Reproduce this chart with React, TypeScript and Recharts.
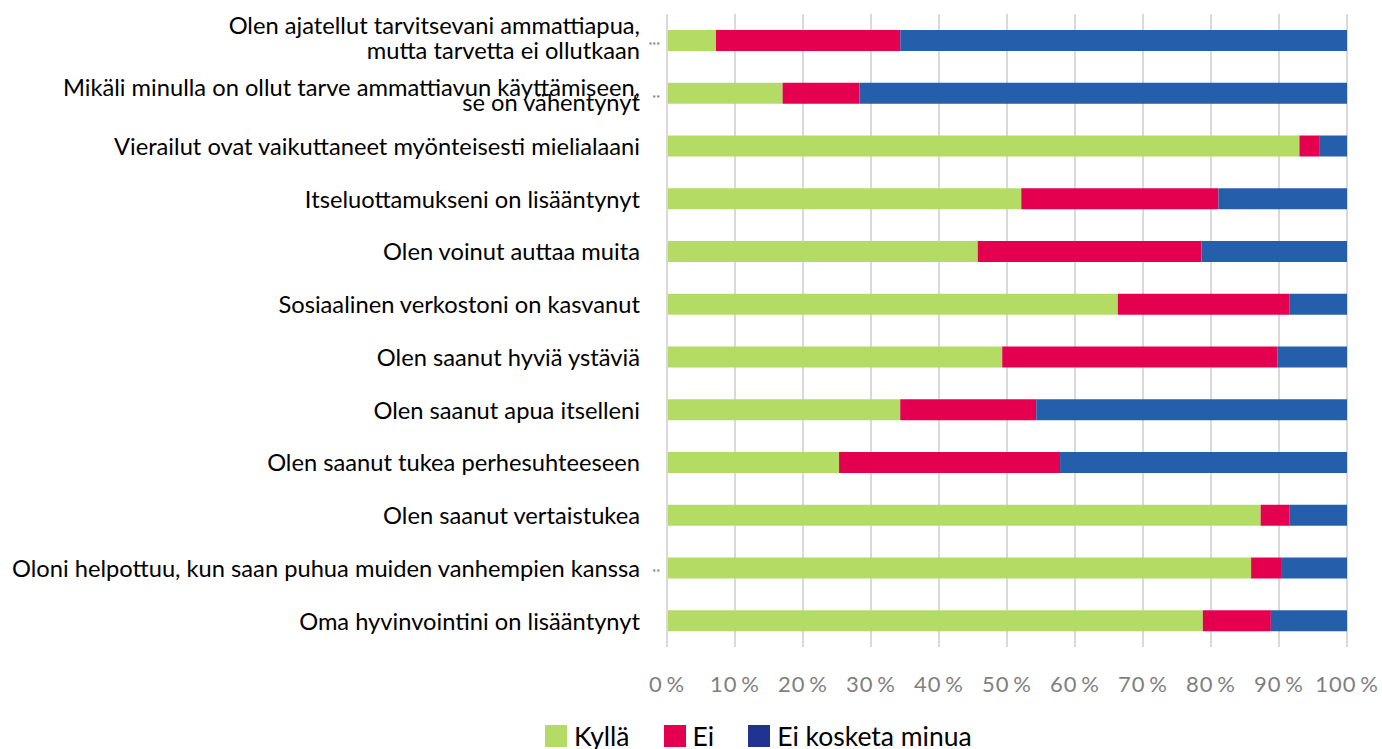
import React from "react";
import { BarChart, Bar, XAxis, YAxis, CartesianGrid, Legend } from "recharts";

const categories = [
  "Olen ajatellut tarvitsevani ammattiapua, mutta tarvetta ei ollutkaan",
  "Mikäli minulla on ollut tarve ammattiavun käyttämiseen, se on vähentynyt",
  "Vierailut ovat vaikuttaneet myönteisesti mielialaani",
  "Itseluottamukseni on lisääntynyt",
  "Olen voinut auttaa muita",
  "Sosiaalinen verkostoni on kasvanut",
  "Olen saanut hyviä ystäviä",
  "Olen saanut apua itselleni",
  "Olen saanut tukea perhesuhteeseen",
  "Olen saanut vertaistukea",
  "Oloni helpottuu, kun saan puhua muiden vanhempien kanssa",
  "Oma hyvinvointini on lisääntynyt",
];

const labelLines: string[][] = [
  ["Olen ajatellut tarvitsevani ammattiapua,", "mutta tarvetta ei ollutkaan"],
  ["Mikäli minulla on ollut tarve ammattiavun käyttämiseen,", "se on vähentynyt"],
  ["Vierailut ovat vaikuttaneet myönteisesti mielialaani"],
  ["Itseluottamukseni on lisääntynyt"],
  ["Olen voinut auttaa muita"],
  ["Sosiaalinen verkostoni on kasvanut"],
  ["Olen saanut hyviä ystäviä"],
  ["Olen saanut apua itselleni"],
  ["Olen saanut tukea perhesuhteeseen"],
  ["Olen saanut vertaistukea"],
  ["Oloni helpottuu, kun saan puhua muiden vanhempien kanssa"],
  ["Oma hyvinvointini on lisääntynyt"],
];

const significance = ["***", "**", "", "", "", "", "", "", "", "", "**", ""];

const kylla = [7.2, 17.0, 93.0, 52.1, 45.7, 66.3, 49.3, 34.3, 25.3, 87.3, 85.9, 78.8];
const ei = [27.1, 11.3, 3.0, 29.0, 32.9, 25.2, 40.5, 20.0, 32.5, 4.2, 4.4, 10.0];
const eiKosketa = [65.7, 71.7, 4.0, 18.9, 21.4, 8.5, 10.2, 45.7, 42.2, 8.5, 9.7, 11.2];

const xTicks = [0, 10, 20, 30, 40, 50, 60, 70, 80, 90, 100];

const seriesNames = ["Kyllä", "Ei", "Ei kosketa minua"];
const barColors = ["#b4dc64", "#e5004f", "#255eab"];
const legendColors = ["#b4dc64", "#e5004f", "#223290"];

const data = categories.map((c, i) => ({
  name: c,
  kylla: kylla[i],
  ei: ei[i],
  eiKosketa: eiKosketa[i],
}));

const FONT = "Lato, 'Noto Sans', sans-serif";

const YTick = (props: any) => {
  const { x, y, payload } = props;
  const idx = categories.indexOf(payload.value);
  const lines = labelLines[idx] || [payload.value];
  const offsets =
    lines.length === 1 ? [0] : idx === 0 ? [-15, 10] : [-6, 9];
  return (
    <g>
      {lines.map((l, k) => (
        <text
          key={k}
          x={x}
          y={y + offsets[k]}
          textAnchor="end"
          dominantBaseline="central"
          fontFamily={FONT}
          fontSize={23.7}
          fill="#000"
        >
          {l}
        </text>
      ))}
      {significance[idx] ? (
        <text
          x={x + 20}
          y={y + 5}
          textAnchor="end"
          dominantBaseline="central"
          fontFamily={FONT}
          fontSize={9}
          fill="#595959"
        >
          {significance[idx]}
        </text>
      ) : null}
    </g>
  );
};

const LegendContent = () => (
  <div
    style={{
      display: "flex",
      justifyContent: "flex-start",
      alignItems: "center",
      height: 30,
      paddingLeft: 545,
      paddingTop: 3,
      boxSizing: "border-box",
      fontFamily: FONT,
      fontSize: 26.5,
      color: "#000",
    }}
  >
    {seriesNames.map((n, i) => (
      <div
        key={n}
        style={{ display: "flex", alignItems: "center", marginLeft: i === 0 ? 0 : 34 }}
      >
        <div style={{ width: 22, height: 22, background: legendColors[i], marginRight: 7 }} />
        <span style={{ lineHeight: "28px" }}>{n}</span>
      </div>
    ))}
  </div>
);

export default function App() {
  return (
    <div style={{ position: "absolute", left: 0, top: 0, background: "#fff" }}>
      <BarChart
        width={1382}
        height={749}
        data={data}
        layout="vertical"
        margin={{ top: 14, right: 35, bottom: 0, left: 0 }}
        barSize={21}
      >
        <CartesianGrid horizontal={false} vertical stroke="#d9d9d9" strokeWidth={2} />
        <XAxis
          type="number"
          domain={[0, 100]}
          ticks={xTicks}
          tickFormatter={(v: number) => `${v}\u2009%`}
          axisLine={false}
          tickLine={false}
          height={72}
          tickMargin={23}
          interval={0}
          tick={{ fontFamily: FONT, fontSize: 22, fill: "#7f7f7f", letterSpacing: 1 }}
        />
        <YAxis
          type="category"
          dataKey="name"
          width={667}
          axisLine={{ stroke: "#d9d9d9", strokeWidth: 2 }}
          tickLine={false}
          tickMargin={21}
          interval={0}
          tick={<YTick />}
        />
        <Legend verticalAlign="bottom" content={<LegendContent />} wrapperStyle={{ left: 0, width: 1382 }} />
        <Bar dataKey="kylla" name={seriesNames[0]} stackId="a" fill={barColors[0]} isAnimationActive={false} />
        <Bar dataKey="ei" name={seriesNames[1]} stackId="a" fill={barColors[1]} isAnimationActive={false} />
        <Bar dataKey="eiKosketa" name={seriesNames[2]} stackId="a" fill={barColors[2]} isAnimationActive={false} />
      </BarChart>
    </div>
  );
}
